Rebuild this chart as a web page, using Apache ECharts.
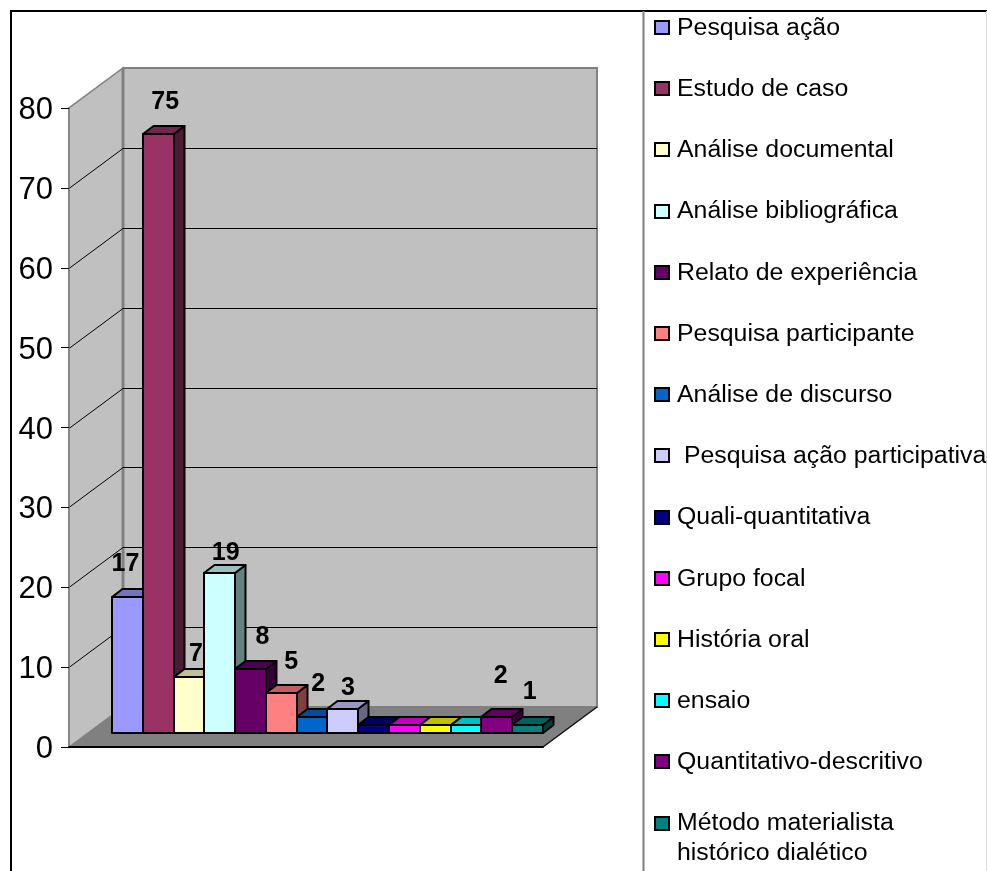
<!DOCTYPE html>
<html>
<head>
<meta charset="utf-8">
<title>Métodos de pesquisa</title>
<style>
html, body { margin: 0; padding: 0; background: #fff; }
#main { width: 987px; height: 871px; }
</style>
<script src="https://cdn.jsdelivr.net/npm/echarts@6/dist/echarts.min.js"></script>
</head>
<body>
<div id="main"></div>
<script>
// categorias e valores
const categories = ['Pesquisa ação', 'Estudo de caso', 'Análise documental', 'Análise bibliográfica',
    'Relato de experiência', 'Pesquisa participante', 'Análise de discurso', ' Pesquisa ação participativa',
    'Quali-quantitativa', 'Grupo focal', 'História oral', 'ensaio', 'Quantitativo-descritivo',
    'Método materialista\nhistórico dialético'];
const values = [17, 75, 7, 20, 8, 5, 2, 3, 1, 1, 1, 1, 2, 1];
const dataLabels = ['17', '75', '7', '19', '8', '5', '2', '3', '', '', '', '', '2', '1'];
const yTicks = [0, 10, 20, 30, 40, 50, 60, 70, 80];
const colors = ['#9999FF', '#993366', '#FFFFCC', '#CCFFFF', '#660066', '#FF8080', '#0066CC', '#CCCCFF',
    '#000080', '#FF00FF', '#FFFF00', '#00FFFF', '#800080', '#008080'];

// deslocamentos de desenho (profundidade 3D)
const wallDepth = [54, -40];
const barDepth = [10.5, -8];
const labelNudge = [[-2, -33], [7, -32], [7, -23], [6, -20], [12, -32], [10, -31], [6, -33], [5, -21],
    [0, 0], [0, 0], [0, 0], [0, 0], [4, -41], [2, -33]];

function shade(hex, f) {
    const n = parseInt(hex.slice(1), 16);
    const c = [(n >> 16) & 255, (n >> 8) & 255, n & 255].map(v => Math.round(v * f));
    return 'rgb(' + c.join(',') + ')';
}

// paredes e chão
function renderWalls(params, api) {
    const rect = params.coordSys;
    const x0 = rect.x, x1 = rect.x + rect.width;
    const top = api.coord([0, 80])[1], bottom = api.coord([0, 0])[1];
    const dx = wallDepth[0], dy = wallDepth[1];
    const edge = { stroke: '#808080', lineWidth: 2 };
    return {
        type: 'group',
        children: [
            { type: 'polygon', shape: { points: [[x0, bottom], [x0 + dx, bottom + dy], [x1 + dx, bottom + dy], [x1, bottom]] },
              style: { fill: '#808080' } },
            { type: 'polygon', shape: { points: [[x0, bottom], [x0, top], [x0 + dx, top + dy], [x0 + dx, bottom + dy]] },
              style: { fill: '#C0C0C0', stroke: '#808080', lineWidth: 1.5 } },
            { type: 'rect', shape: { x: x0 + dx, y: top + dy, width: rect.width, height: bottom - top },
              style: Object.assign({ fill: '#C0C0C0' }, edge) },
            { type: 'line', shape: { x1: x0 + dx, y1: top + dy, x2: x0 + dx, y2: bottom + dy },
              style: { stroke: '#808080', lineWidth: 3 } },
            { type: 'line', shape: { x1: x1, y1: bottom, x2: x1 + dx, y2: bottom + dy },
              style: { stroke: '#111', lineWidth: 1.5 } }
        ]
    };
}

function renderGridLine(params, api) {
    const rect = params.coordSys;
    const dx = wallDepth[0], dy = wallDepth[1];
    const y = Math.round(api.coord([0, api.value(0)])[1]) + 0.5;
    return {
        type: 'polyline',
        shape: { points: [[rect.x, y], [rect.x + dx, y + dy], [rect.x + rect.width + dx, y + dy]] },
        style: { stroke: '#000', lineWidth: 1, fill: null }
    };
}

// barra 3D: frente, topo e lateral
function renderBar(params, api) {
    const i = api.value(0);
    const base = api.coord([i, 0]);
    const tip = Math.round(api.coord([i, api.value(1)])[1]);
    const w = api.size([1, 0])[0];
    const x = Math.round(base[0] - w / 2), r = Math.round(base[0] + w / 2);
    const dx = barDepth[0], dy = barDepth[1];
    const line = { stroke: '#000', lineWidth: 2, lineJoin: 'round' };
    return {
        type: 'group',
        children: [
            { type: 'polygon', shape: { points: [[r, tip], [r + dx, tip + dy], [r + dx, base[1] + dy], [r, base[1]]] },
              style: Object.assign({ fill: shade(colors[i], 0.5) }, line) },
            { type: 'polygon', shape: { points: [[x, tip], [x + dx, tip + dy], [r + dx, tip + dy], [r, tip]] },
              style: Object.assign({ fill: shade(colors[i], 0.75) }, line) },
            { type: 'rect', shape: { x: x, y: tip, width: r - x, height: base[1] - tip },
              style: Object.assign({ fill: colors[i] }, line) }
        ]
    };
}

function renderLabel(params, api) {
    const i = api.value(0);
    const tip = api.coord([i, api.value(1)]);
    return {
        type: 'text',
        x: tip[0] + labelNudge[i][0],
        y: tip[1] + labelNudge[i][1],
        style: { text: dataLabels[i], fontFamily: 'Liberation Sans', fontWeight: 'bold', fontSize: 25,
                 fill: '#000', align: 'center', verticalAlign: 'middle' }
    };
}

// legenda com o texto um pouco esticado, como no original
const legendItems = [];
categories.forEach((name, i) => {
    const cy = 27 + 61.2 * i;
    legendItems.push({ type: 'rect', shape: { x: 655, y: Math.round(cy) - 6, width: 14, height: 13 },
        style: { fill: colors[i], stroke: '#000', lineWidth: 2 } });
    legendItems.push({ type: 'text', x: 677, y: cy - 13.5, scaleX: 1.08,
        style: { text: name, x: 0, y: 0, fontFamily: 'Liberation Sans', fontSize: 23, lineHeight: 30,
                 fill: '#000', align: 'left', verticalAlign: 'top' } });
});

const chart = echarts.init(document.getElementById('main'));
chart.setOption({
    animation: false,
    backgroundColor: '#fff',
    grid: [
        { left: 69, top: 108, width: 474, height: 639 },   // plano da frente
        { left: 112, top: 94, width: 431, height: 639 }    // plano das barras
    ],
    xAxis: [
        { gridIndex: 0, type: 'category', data: [''], z: 5,
          axisLine: { lineStyle: { color: '#000', width: 2 } }, axisTick: { show: false }, axisLabel: { show: false } },
        { gridIndex: 1, type: 'category', data: categories, show: false }
    ],
    yAxis: [
        { gridIndex: 0, type: 'value', min: 0, max: 80, interval: 10, z: 5,
          splitLine: { show: false },
          axisLine: { show: true, lineStyle: { color: '#808080', width: 1.5 } },
          axisTick: { show: true, length: 8, lineStyle: { color: '#000', width: 1 } },
          axisLabel: { margin: 16, formatter: '{a|{value}}',
              rich: { a: { fontFamily: 'Liberation Sans', fontSize: 31, color: '#000', padding: [5, 0, 0, 0] } } } },
        { gridIndex: 1, type: 'value', min: 0, max: 80, show: false, splitLine: { show: false } }
    ],
    series: [
        { type: 'custom', name: 'paredes', xAxisIndex: 0, yAxisIndex: 0, z: 1, clip: false, silent: true,
          data: [[0]], renderItem: renderWalls },
        { type: 'custom', name: 'grade', xAxisIndex: 0, yAxisIndex: 0, z: 2, clip: false, silent: true,
          data: yTicks.filter(v => v > 0 && v < 80).map(v => [v]), encode: { y: 0 }, renderItem: renderGridLine },
        { type: 'custom', name: 'barras', xAxisIndex: 1, yAxisIndex: 1, z: 3, clip: false,
          data: values.map((v, i) => [i, v]), encode: { x: 0, y: 1 }, renderItem: renderBar },
        { type: 'custom', name: 'rotulos', xAxisIndex: 1, yAxisIndex: 1, z: 4, clip: false, silent: true,
          data: values.map((v, i) => [i, v]), encode: { x: 0, y: 1 }, renderItem: renderLabel }
    ],
    graphic: [
        { type: 'polyline', silent: true, shape: { points: [[11, 871], [11, 11], [987, 11]] },
          style: { stroke: '#000', lineWidth: 2, fill: null } },
        { type: 'line', silent: true, shape: { x1: 643.5, y1: 11, x2: 643.5, y2: 871 },
          style: { stroke: '#808080', lineWidth: 2 } },
        { type: 'line', silent: true, shape: { x1: 986.5, y1: 11, x2: 986.5, y2: 871 },
          style: { stroke: '#E0E0E0', lineWidth: 1 } }
    ].concat(legendItems)
});
</script>
</body>
</html>
